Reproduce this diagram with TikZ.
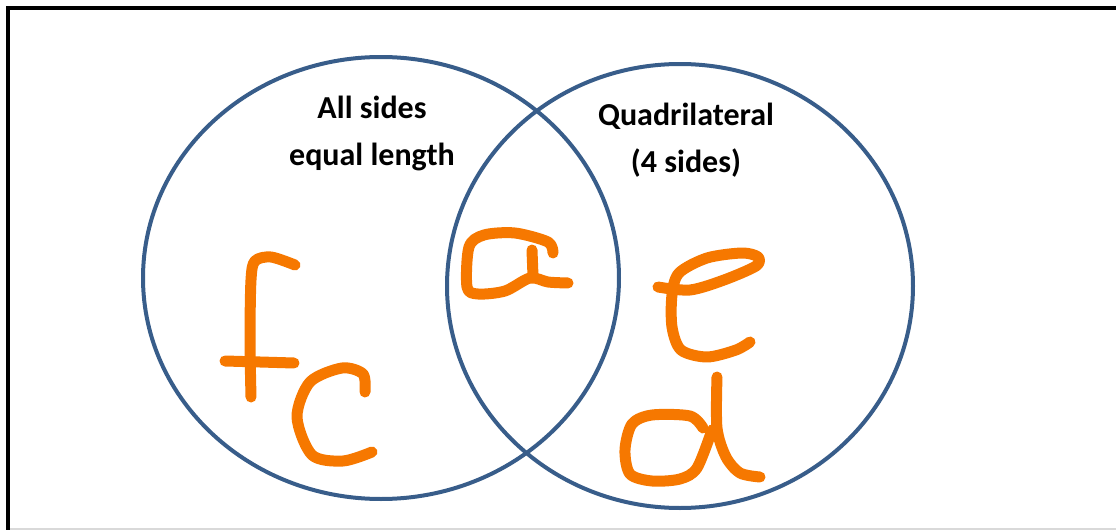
\documentclass[tikz,border=0pt]{standalone}
\usepackage{fontspec}
\setmainfont{Carlito}
\usetikzlibrary{positioning}
\definecolor{ring}{RGB}{56,93,138}
\definecolor{ink}{RGB}{246,120,0}

\begin{document}
\begin{tikzpicture}[x=0.5pt, y=-0.5pt, font=\bfseries\fontsize{16}{23.5}\selectfont,
  ring/.style={draw=ring, line width=2pt},
  pen/.style={draw=ink, line width=5.5pt, line cap=round, line join=round}]
  \useasboundingbox (0,0) rectangle (1116,530);
  \draw[line width=2pt] (8,545) -- (8,8) -- (1130,8);
  \draw[gray!30, line width=0.8pt] (10,529) -- (1116,529);
  % the two sets
  \draw[ring] (381,278) ellipse [x radius=238, y radius=221];
  \draw[ring] (680,286) ellipse [x radius=233, y radius=222];
  \node[align=center] (equal) at (372,133) {All sides\\equal length};
  \node[align=center] (quad) at (686,140) {Quadrilateral\\(4 sides)};
  % f
  \draw[pen] plot[smooth] coordinates {(295,265) (271,257) (255,261) (251,280) (250,340) (251,397)};
  \draw[pen] plot[smooth] coordinates {(225,361) (260,362) (294,363)};
  % c
  \draw[pen] plot[smooth] coordinates {(365,392) (363,374) (342,368) (310,382) (297,417) (312,455) (343,461) (372,452)};
  % a
  \draw[pen] plot[smooth] coordinates {(553,253) (548,242) (515,233) (484,235) (469,247) (467,287) (478,294) (505,291) (530,278) (548,282) (568,283)};
  \draw[pen] (532,250) -- (533,276);
  % e
  \draw[pen] plot[smooth] coordinates {(658,287) (690,290) (724,280) (756,266) (758,257) (742,253) (707,258) (679,273) (672,295) (672,327) (681,350) (707,357) (736,350) (750,342)};
  % d
  \draw[pen] plot[smooth] coordinates {(703,428) (690,416) (652,415) (632,424) (625,450) (630,474) (652,481) (680,479) (697,468) (712,430)};
  \draw[pen] plot[smooth] coordinates {(717,377) (717,428) (726,457) (740,473) (760,477)};
\end{tikzpicture}
\end{document}
